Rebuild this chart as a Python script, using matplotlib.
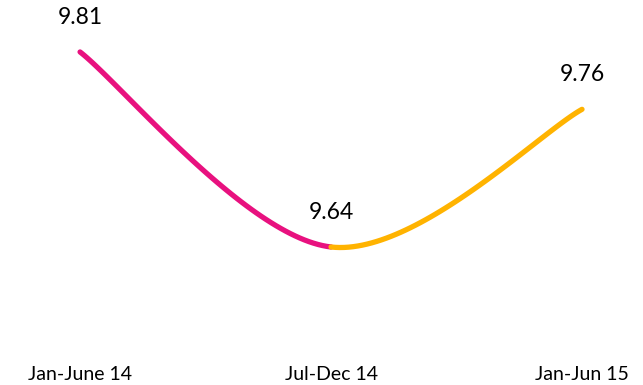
import numpy as np
import matplotlib
matplotlib.use("Agg")
import matplotlib.pyplot as plt

categories = ["Jan-June 14", "Jul-Dec 14", "Jan-Jun 15"]
values = [9.81, 9.64, 9.76]
label_texts = ["9.81", "9.64", "9.76"]
seg_colors = ["#E8117F", "#FFB300"]

plt.rcParams['font.family'] = ['Lato', 'DejaVu Sans']

fig = plt.figure(figsize=(6.43, 3.85), dpi=100)
ax = fig.add_axes([0, 0, 1, 1])
ax.set_xlim(-0.319, 2.243)
ax.set_ylim(9.5197, 9.8553)
ax.axis('off')

x = np.arange(len(values), dtype=float)
y = np.array(values, dtype=float)

def smooth_segment(i, n=60):
    pts = ax.transData.transform(np.column_stack([x, y]))
    p0 = pts[max(i - 1, 0)]
    p1 = pts[i]
    p2 = pts[i + 1]
    p3 = pts[min(i + 2, len(pts) - 1)]
    m1 = (p2 - p0) / 2.0 if i > 0 else (p2 - p1) / 2.0
    m2 = (p3 - p1) / 2.0 if i + 2 < len(pts) else (p2 - p1) / 2.0
    c1 = p1 + m1 / 3.0
    c2 = p2 - m2 / 3.0
    t = np.linspace(0, 1, n)[:, None]
    b = (1 - t) ** 3 * p1 + 3 * (1 - t) ** 2 * t * c1 + 3 * (1 - t) * t ** 2 * c2 + t ** 3 * p2
    return ax.transData.inverted().transform(b)

for i in range(len(values) - 1):
    seg = smooth_segment(i)
    ax.plot(seg[:, 0], seg[:, 1], color=seg_colors[i], lw=3.8, solid_capstyle='round')

for xi, yi, t in zip(x, y, label_texts):
    ax.annotate(t, (xi, yi), xytext=(0, 25), textcoords='offset points',
                ha='center', va='center', fontsize=16.5, color='black')

for xi, c in zip(x, categories):
    ax.annotate(c, (xi, 0), xycoords=('data', 'figure pixels'), xytext=(0, 10),
                textcoords='offset pixels', ha='center', va='center',
                fontsize=14, color='black')

fig.savefig("out.png", dpi=100)
